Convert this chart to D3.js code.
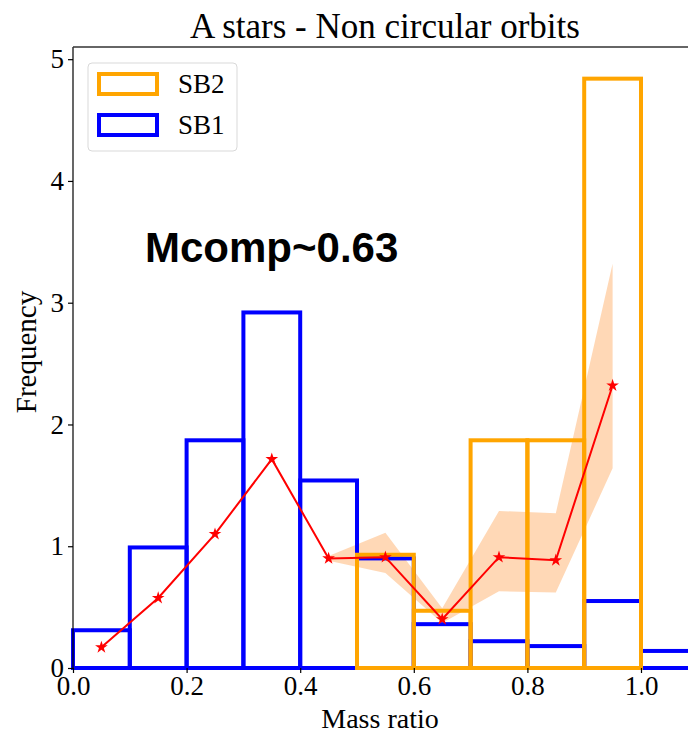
<!DOCTYPE html>
<html>
<head>
<meta charset="utf-8">
<script src="https://cdn.jsdelivr.net/npm/d3@7"></script>
<style>
  body { margin: 0; background: #fff; }
  svg { display: block; }
</style>
</head>
<body>
<svg id="chart" width="688" height="736"></svg>
<script>
// bin edges for both histograms
var sb1Edges = [0.0, 0.1, 0.2, 0.3, 0.4, 0.5, 0.6, 0.7, 0.8, 0.9, 1.0, 1.1];
var sb1Values = [0.31, 0.99, 1.87, 2.92, 1.54, 0.90, 0.36, 0.22, 0.18, 0.55, 0.14];
var sb2Edges = [0.0, 0.1, 0.2, 0.3, 0.4, 0.5, 0.6, 0.7, 0.8, 0.9, 1.0];
var sb2Values = [0, 0, 0, 0, 0, 0.93, 0.47, 1.87, 1.87, 4.84];

// red curve (bin centres) and its uncertainty band
var curveX = [0.05, 0.15, 0.25, 0.35, 0.45, 0.55, 0.65, 0.75, 0.85, 0.95];
var curveY = [0.17, 0.575, 1.10, 1.715, 0.90, 0.91, 0.40, 0.91, 0.885, 2.32];
var bandX = [0.45, 0.55, 0.65, 0.75, 0.85, 0.95];
var bandLow = [0.88, 0.78, 0.37, 0.63, 0.62, 1.64];
var bandHigh = [0.92, 1.11, 0.49, 1.29, 1.27, 3.32];

var xTicks = [0.0, 0.2, 0.4, 0.6, 0.8, 1.0];
var yTicks = [0, 1, 2, 3, 4, 5];

(function () {
  var svg = d3.select("#chart");
  var left = 73, plotTop = 47, bottom = 668;
  var x = d3.scaleLinear().domain([0, 1.1]).range([left, left + 1.1 * 568]);
  var y = d3.scaleLinear().domain([0, 5.1]).range([bottom, plotTop]);

  var serif = "'Liberation Serif', 'DejaVu Serif', serif";

  // band
  var band = d3.area()
      .x(function (d, i) { return x(bandX[i]); })
      .y0(function (d, i) { return y(bandLow[i]); })
      .y1(function (d, i) { return y(bandHigh[i]); });
  svg.append("path").datum(bandX)
      .attr("d", band)
      .attr("fill", "#ff7f0e").attr("fill-opacity", 0.3);

  // unfilled bars, one outline per bin
  function bars(edges, vals, color) {
    svg.append("g").selectAll("rect").data(vals).enter().append("rect")
        .attr("x", function (d, i) { return x(edges[i]); })
        .attr("width", function (d, i) { return x(edges[i + 1]) - x(edges[i]); })
        .attr("y", function (d) { return y(d); })
        .attr("height", function (d) { return y(0) - y(d); })
        .attr("fill", "none").attr("stroke", color).attr("stroke-width", 4);
  }
  bars(sb1Edges, sb1Values, "#0000ff");
  bars(sb2Edges, sb2Values, "#ffa500");

  // red line with star markers
  var redLine = d3.line()
      .x(function (d, i) { return x(curveX[i]); })
      .y(function (d) { return y(d); });
  svg.append("path").datum(curveY).attr("d", redLine)
      .attr("fill", "none").attr("stroke", "#ff0000").attr("stroke-width", 2);
  svg.selectAll(".star").data(curveY).enter().append("path")
      .attr("class", "star")
      .attr("d", d3.symbol().type(d3.symbolStar).size(50))
      .attr("transform", function (d, i) { return "translate(" + x(curveX[i]) + "," + y(d) + ")"; })
      .attr("fill", "#ff0000");

  // spines
  svg.append("line").attr("x1", left).attr("x2", left).attr("y1", plotTop).attr("y2", bottom)
      .attr("stroke", "#000").attr("stroke-width", 1.2);
  svg.append("line").attr("x1", left).attr("x2", 688).attr("y1", plotTop).attr("y2", plotTop)
      .attr("stroke", "#333").attr("stroke-width", 1.5);

  // axes
  var xAxis = svg.append("g").attr("transform", "translate(0," + bottom + ")")
      .call(d3.axisBottom(x).tickValues(xTicks).tickFormat(d3.format(".1f")).tickSize(5).tickPadding(3));
  var yAxis = svg.append("g").attr("transform", "translate(" + left + ",0)")
      .call(d3.axisLeft(y).tickValues(yTicks).tickFormat(d3.format("d")).tickSize(5).tickPadding(4));
  [xAxis, yAxis].forEach(function (g) {
    g.select(".domain").remove();
    g.selectAll("line").attr("stroke", "#000").attr("stroke-width", 1.2);
    g.selectAll("text").attr("font-family", serif).attr("font-size", 27).attr("fill", "#000");
  });

  // labels
  svg.append("text").attr("x", 385).attr("y", 38).attr("text-anchor", "middle")
      .attr("font-family", serif).attr("font-size", 35).text("A stars - Non circular orbits");
  svg.append("text").attr("x", 380).attr("y", 728).attr("text-anchor", "middle")
      .attr("font-family", serif).attr("font-size", 28).text("Mass ratio");
  svg.append("text").attr("transform", "translate(36,352) rotate(-90)").attr("text-anchor", "middle")
      .attr("font-family", serif).attr("font-size", 29).text("Frequency");
  svg.append("text").attr("x", 145).attr("y", 262)
      .attr("font-family", "'Liberation Sans', Arial, sans-serif").attr("font-weight", "bold")
      .attr("font-size", 42).text("Mcomp~0.63");

  // legend
  var legend = svg.append("g");
  legend.append("rect").attr("x", 88).attr("y", 63).attr("width", 149).attr("height", 88)
      .attr("rx", 4).attr("fill", "#fff").attr("fill-opacity", 0.8)
      .attr("stroke", "#d9d9d9").attr("stroke-width", 1);
  var legendItems = [["SB2", "#ffa500"], ["SB1", "#0000ff"]];
  legend.selectAll(".item").data(legendItems).enter().append("g")
      .attr("class", "item")
      .each(function (d, i) {
        var g = d3.select(this);
        var cy = 84 + i * 41;
        g.append("rect").attr("x", 99).attr("y", cy - 10).attr("width", 58).attr("height", 20)
            .attr("fill", "none").attr("stroke", d[1]).attr("stroke-width", 4);
        g.append("text").attr("x", 178).attr("y", cy + 9)
            .attr("font-family", serif).attr("font-size", 27).text(d[0]);
      });
})();
</script>
</body>
</html>
